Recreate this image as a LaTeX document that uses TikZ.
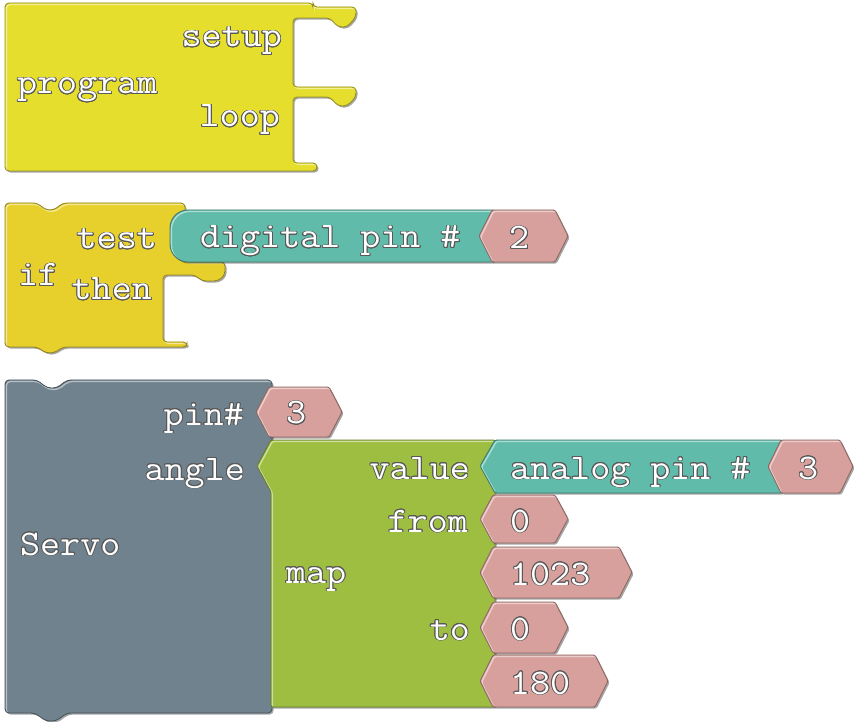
\documentclass[tikz,border=0pt]{standalone}
\usepackage{contour}
\contourlength{0.9pt}
\contournumber{16}
\definecolor{yelA}{RGB}{230,222,44}
\definecolor{yelB}{RGB}{231,208,43}
\definecolor{tealc}{RGB}{96,187,170}
\definecolor{pinkc}{RGB}{216,160,156}
\definecolor{grayc}{RGB}{111,130,141}
\definecolor{greenc}{RGB}{157,190,64}
\newcommand\shp[3][]{%
  \fill[black, opacity=0.35, shift={(1.6,1.6)}, #1] #3;
  \fill[fill=#2, #1] #3;
  \begin{scope}
    \clip[#1] #3;
    \draw[white, opacity=0.5, line width=1.4pt, shift={(1.4,1.4)}, #1] #3;
  \end{scope}
  \draw[draw=#2!65!black, line width=0.9pt, #1] #3;}
\newcommand\hexb[4]{\shp[rounded corners=1.5pt]{pinkc}{(#1,{(#2+#3)/2}) -- (#1+13,#2) -- (#4-13,#2) -- (#4,{(#2+#3)/2}) -- (#4-13,#3) -- (#1+13,#3) -- cycle}}
\newcommand\tx[1]{\contour{black!65}{\scalebox{1.08}[1]{#1}}}
\begin{document}
\begin{tikzpicture}[x=1pt,y=-1pt,
  lbl/.style={text=white, inner sep=0pt, font=\fontsize{36}{40}\selectfont\ttfamily}]
\useasboundingbox[fill=white] (0,0) rectangle (855,722);
% program block
\shp[rounded corners=4pt]{yelA}{(5,3) -- (313,3) -- (313,7) -- (356,7) -- (356,17) -- (347,27) -- (338,27) -- (330,18) -- (293,18) -- (293,87) -- (356,87) -- (356,97) -- (347,106) -- (338,106) -- (330,97) -- (293,97) -- (293,163) -- (317,163) -- (317,171) -- (5,171) -- cycle}
% if block
\shp[rounded corners=4pt]{yelB}{(5,203) -- (37,203) -- (46,210) -- (54,210) -- (63,203) -- (185,203) -- (185,262) -- (225,262) -- (225,275) -- (218,281) -- (202,281) -- (195,275) -- (163,275) -- (163,342) -- (187,342) -- (187,347) -- (63,347) -- (54,353) -- (46,353) -- (37,347) -- (5,347) -- cycle}
\shp{tealc}{(493,210) -- (188,210) .. controls (178,210) and (170,218) .. (170,228) -- (170,244) .. controls (170,254) and (178,262) .. (188,262) -- (493,262) -- cycle}
\hexb{479}{210}{262}{568}
% servo block
\shp[rounded corners=4pt]{grayc}{(5,380) -- (37,380) -- (47,388) -- (57,388) -- (67,380) -- (272,380) -- (272,713) -- (67,713) -- (56,721) -- (46,721) -- (35,713) -- (5,713) -- cycle}
\hexb{256}{387}{437}{342}
\shp[rounded corners=1.5pt]{greenc}{(271,440) -- (495,440) -- (495,707) -- (271,707) -- (271,492) -- (257,466) -- cycle}
\shp[rounded corners=1.5pt]{tealc}{(480,466) -- (495,440) -- (782,440) -- (782,493) -- (495,493) -- cycle}
\hexb{768}{440}{493}{853}
\hexb{480}{495}{543}{568}
\hexb{480}{547}{598}{632}
\hexb{480}{602}{653}{568}
\hexb{480}{655}{707}{608}
% labels
\node[lbl, anchor=base east] (lSetup) at (282,47) {\tx{setup}};
\node[lbl, anchor=base west] (lProgram) at (17,94) {\tx{program}};
\node[lbl, anchor=base east] (lLoop) at (280,127) {\tx{loop}};
\node[lbl, anchor=base east] (lTest) at (157,249) {\tx{test}};
\node[lbl, anchor=base west] (lIf) at (18,286) {\tx{if}};
\node[lbl, anchor=base east] (lThen) at (152,300) {\tx{then}};
\node[lbl, anchor=base west] (lDigital) at (200,248) {\tx{digital pin \#}};
\node[lbl, anchor=base west] (lTwo) at (509,249) {\tx{2}};
\node[lbl, anchor=base east] (lPin) at (244,425) {\tx{pin\#}};
\node[lbl, anchor=base west] (lThreeA) at (286,424) {\tx{3}};
\node[lbl, anchor=base east] (lAngle) at (245,480) {\tx{angle}};
\node[lbl, anchor=base west] (lServo) at (20,555) {\tx{Servo}};
\node[lbl, anchor=base east] (lValue) at (470,479) {\tx{value}};
\node[lbl, anchor=base west] (lAnalog) at (510,479) {\tx{analog pin \#}};
\node[lbl, anchor=base west] (lThreeB) at (798,479) {\tx{3}};
\node[lbl, anchor=base east] (lFrom) at (468,532) {\tx{from}};
\node[lbl, anchor=base west] (lZeroA) at (510,532) {\tx{0}};
\node[lbl, anchor=base west] (lMap) at (286,583) {\tx{map}};
\node[lbl, anchor=base west] (lTen) at (510,585) {\tx{1023}};
\node[lbl, anchor=base east] (lTo) at (470,640) {\tx{to}};
\node[lbl, anchor=base west] (lZeroB) at (510,640) {\tx{0}};
\node[lbl, anchor=base west] (lOneEighty) at (510,694) {\tx{180}};
\end{tikzpicture}
\end{document}
